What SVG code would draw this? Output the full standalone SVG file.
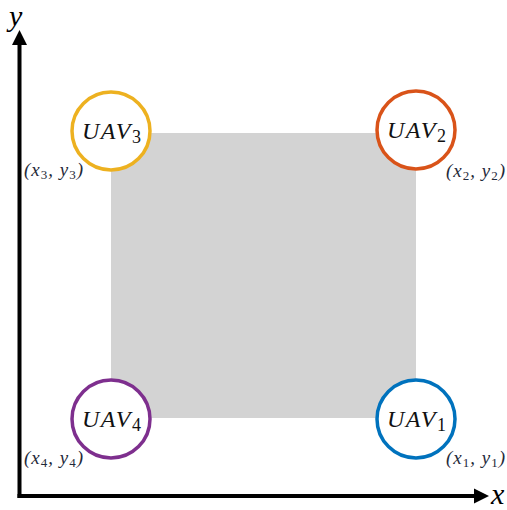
<svg xmlns="http://www.w3.org/2000/svg" width="507" height="510" viewBox="0 0 507 510">
<style>
text{font-family:'Liberation Serif','DejaVu Serif','Times New Roman',serif}
.uav{fill:#fff;stroke-width:3.5}
.lbl{font-style:italic;font-size:24px;fill:#111;letter-spacing:1.5px}
.sub{font-style:normal;font-size:18px;letter-spacing:0}
.coord{font-style:italic;font-size:19px;fill:#1f2a3a;letter-spacing:1px}
.cs{font-style:normal;font-size:13px}
.ax{font-style:italic;font-size:30px;fill:#000}
</style>
<rect width="507" height="510" fill="#fff"/>
<rect x="111" y="133" width="305" height="285" fill="#d3d3d3"/>
<g id="axes">
<line x1="19.5" y1="498" x2="19.5" y2="42" stroke="#000" stroke-width="4"/>
<polygon points="19.5,30 12,45 27,45" fill="#000"/>
<line x1="17.5" y1="496" x2="476" y2="496" stroke="#000" stroke-width="4"/>
<polygon points="489,496 474,488.5 474,503.5" fill="#000"/>
<text class="ax" x="9" y="26">y</text>
<text class="ax" x="491" y="504">x</text>
</g>
<g id="uav3">
<circle class="uav" cx="111" cy="131" r="39" stroke="#EDB120"/>
<text class="lbl" x="82" y="139">UAV<tspan class="sub" dy="4">3</tspan></text>
<text class="coord" x="24" y="176">(x<tspan class="cs" dy="3">3</tspan><tspan dy="-3">, y</tspan><tspan class="cs" dy="3">3</tspan><tspan dy="-3">)</tspan></text>
</g>
<g id="uav2">
<circle class="uav" cx="416" cy="130" r="39" stroke="#D95319"/>
<text class="lbl" x="387" y="138">UAV<tspan class="sub" dy="4">2</tspan></text>
<text class="coord" x="446" y="177">(x<tspan class="cs" dy="3">2</tspan><tspan dy="-3">, y</tspan><tspan class="cs" dy="3">2</tspan><tspan dy="-3">)</tspan></text>
</g>
<g id="uav4">
<circle class="uav" cx="111" cy="419" r="39" stroke="#7E2F8E"/>
<text class="lbl" x="82" y="427">UAV<tspan class="sub" dy="4">4</tspan></text>
<text class="coord" x="24" y="464">(x<tspan class="cs" dy="3">4</tspan><tspan dy="-3">, y</tspan><tspan class="cs" dy="3">4</tspan><tspan dy="-3">)</tspan></text>
</g>
<g id="uav1">
<circle class="uav" cx="416" cy="419" r="39" stroke="#0072BD"/>
<text class="lbl" x="387" y="427">UAV<tspan class="sub" dy="4">1</tspan></text>
<text class="coord" x="446" y="464">(x<tspan class="cs" dy="3">1</tspan><tspan dy="-3">, y</tspan><tspan class="cs" dy="3">1</tspan><tspan dy="-3">)</tspan></text>
</g>
</svg>
